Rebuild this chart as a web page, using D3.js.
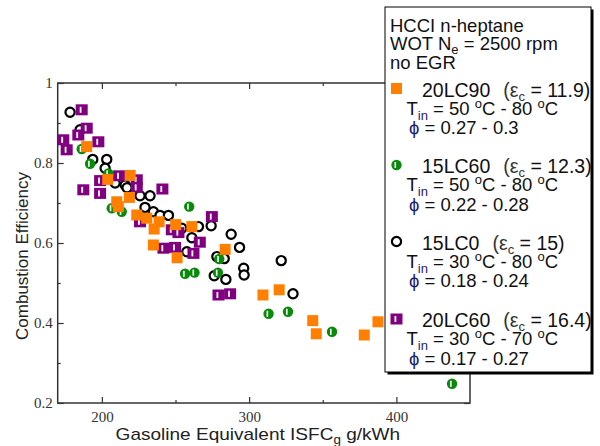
<!DOCTYPE html>
<html>
<head>
<meta charset="utf-8">
<script src="https://cdn.jsdelivr.net/npm/d3@7"></script>
<style>
  body { margin: 0; background: #fff; }
  svg { font-family: "Liberation Sans", Arial, sans-serif; }
</style>
</head>
<body>
<script>
// chart size
const width = 600;
const height = 446;

const isfc20LC90 = [189.7, 204.0, 219.2, 210.1, 218.7, 211.2, 223.7, 230.5, 238.9, 235.5, 250.1, 261.1, 235.0, 251.1, 283.7, 309.4, 320.4, 343.2, 345.6, 378.2, 387.5];
const eff20LC90  = [0.841, 0.759, 0.769, 0.703, 0.714, 0.691, 0.670, 0.662, 0.653, 0.635, 0.646, 0.641, 0.595, 0.563, 0.584, 0.470, 0.483, 0.406, 0.373, 0.370, 0.403];

const isfc15LC60 = [186.3, 192.0, 204.4, 206.7, 213.5, 259.3, 279.7, 278.8, 256.5, 262.9, 313.2, 326.4, 356.3, 437.8];
const eff15LC60  = [0.835, 0.798, 0.774, 0.687, 0.678, 0.691, 0.560, 0.526, 0.523, 0.526, 0.423, 0.428, 0.378, 0.248];

const isfc15LC0 = [178.4, 185.2, 193.8, 203.3, 202.2, 209.0, 215.8, 217.1, 225.9, 232.7, 229.3, 235.0, 239.5, 245.2, 254.3, 265.6, 274.2, 261.1, 257.7, 287.8, 293.5, 278.1, 283.1, 276.3, 284.2, 296.3, 296.6, 321.8, 329.8];
const eff15LC0  = [0.927, 0.883, 0.809, 0.809, 0.787, 0.750, 0.745, 0.738, 0.718, 0.718, 0.689, 0.678, 0.669, 0.669, 0.637, 0.641, 0.643, 0.613, 0.578, 0.622, 0.589, 0.566, 0.561, 0.518, 0.509, 0.537, 0.520, 0.556, 0.473];

const isfc20LC60 = [186.3, 189.7, 184.0, 173.8, 176.1, 197.6, 187.4, 198.8, 198.8, 211.7, 223.7, 223.7, 241.1, 225.9, 247.5, 252.0, 274.7, 266.5, 241.8, 249.7, 262.2, 279.2, 287.1];
const eff20LC60  = [0.933, 0.887, 0.870, 0.858, 0.833, 0.853, 0.733, 0.756, 0.724, 0.768, 0.758, 0.739, 0.735, 0.653, 0.633, 0.626, 0.666, 0.602, 0.587, 0.589, 0.574, 0.470, 0.473];

// ticks
const xMajor = [200, 300, 400];
const xMinor = [250, 350];
const yMajor = [0.2, 0.4, 0.6, 0.8, 1];
const yMinor = [0.3, 0.5, 0.7, 0.9];

// legend texts
const header = ['HCCI n-heptane', 'WOT N', 'no EGR'];
const names = ['20LC90', '15LC60', '15LC0', '20LC60'];
const ratios = ['11.9', '12.3', '15', '16.4'];
const tinLow = ['50', '50', '30', '30'];
const tinHigh = ['80', '80', '80', '70'];
const phiRange = ['0.27 - 0.3', '0.22 - 0.28', '0.18 - 0.24', '0.17 - 0.27'];

const orange = '#ff8000', green = '#0a8a0a', purple = '#800080';

const svg = d3.select('body')
  .append('svg')
  .attr('width', width)
  .attr('height', height);

const x = d3.scaleLinear().domain([170, 450]).range([57.7, 470]);
const y = d3.scaleLinear().domain([0.2, 1]).range([403, 83]);

// cadre
svg.append('rect')
  .attr('x', x(170)).attr('y', y(1))
  .attr('width', x(450) - x(170)).attr('height', y(0.2) - y(1))
  .attr('fill', 'none').attr('stroke', '#333').attr('stroke-width', 1.5);

const tickStyle = g => {
  g.select('.domain').remove();
  g.selectAll('line').attr('stroke', '#333').attr('stroke-width', 1.2);
  g.selectAll('text')
    .attr('font-family', '"Liberation Serif", "Times New Roman", serif')
    .attr('font-size', 15).attr('fill', '#333');
};

// axe horizontal
svg.append('g')
  .attr('transform', `translate(0,${y(0.2)})`)
  .call(d3.axisBottom(x).tickValues(xMajor).tickSizeInner(-6).tickSizeOuter(0).tickPadding(8).tickFormat(d3.format('d')))
  .call(tickStyle);
svg.append('g')
  .attr('transform', `translate(0,${y(0.2)})`)
  .call(d3.axisBottom(x).tickValues(xMinor).tickSize(-3).tickFormat(''))
  .call(tickStyle);
svg.append('g')
  .attr('transform', `translate(0,${y(1)})`)
  .call(d3.axisTop(x).tickValues(xMajor).tickSize(-6).tickFormat(''))
  .call(tickStyle);
svg.append('g')
  .attr('transform', `translate(0,${y(1)})`)
  .call(d3.axisTop(x).tickValues(xMinor).tickSize(-3).tickFormat(''))
  .call(tickStyle);

// axe vertical
svg.append('g')
  .attr('transform', `translate(${x(170)},0)`)
  .call(d3.axisLeft(y).tickValues(yMajor).tickSizeInner(-6).tickSizeOuter(0).tickPadding(5)
    .tickFormat(d => d === 1 ? '1' : d3.format('.1f')(d)))
  .call(tickStyle);
svg.append('g')
  .attr('transform', `translate(${x(170)},0)`)
  .call(d3.axisLeft(y).tickValues(yMinor).tickSize(-3).tickFormat(''))
  .call(tickStyle);
svg.append('g')
  .attr('transform', `translate(${x(450)},0)`)
  .call(d3.axisRight(y).tickValues(yMajor).tickSize(-6).tickFormat(''))
  .call(tickStyle);

// titres des axes
svg.append('text')
  .attr('transform', `translate(${(x(170) + x(450)) / 2 - 6},440) scale(1.12,1)`)
  .attr('text-anchor', 'middle')
  .attr('font-size', 17)
  .attr('fill', '#222')
  .text('Gasoline Equivalent ISFC')
  .append('tspan').attr('font-size', 12).attr('dy', 4).text('g')
  .clone(true).attr('font-size', 17).attr('dy', -4).text(' g/kWh');

svg.append('text')
  .attr('transform', 'translate(28,256) rotate(-90)')
  .attr('text-anchor', 'middle')
  .attr('font-size', 17)
  .attr('fill', '#222')
  .text('Combustion Efficiency');

// points
const pts = (xs, ys) => xs.map((v, i) => ({ x: v, y: ys[i] }));

function drawOpen(g) {
  g.append('circle').attr('r', 4.6).attr('fill', 'white').attr('stroke', '#000').attr('stroke-width', 2.2);
}
function drawGreen(g) {
  g.append('circle').attr('r', 5.2).attr('fill', green);
  g.append('rect').attr('x', -2).attr('y', -3).attr('width', 1.6).attr('height', 6).attr('fill', 'white');
}
function drawPurple(g) {
  g.append('rect').attr('x', -6).attr('y', -5.5).attr('width', 12).attr('height', 11).attr('fill', purple);
  g.append('rect').attr('x', -2).attr('y', -3).attr('width', 1.8).attr('height', 6).attr('fill', 'white');
}
function drawOrange(g) {
  g.append('rect').attr('x', -5.5).attr('y', -5.5).attr('width', 11).attr('height', 11).attr('fill', orange);
}

const layers = [
  [pts(isfc15LC0, eff15LC0), drawOpen],
  [pts(isfc20LC60, eff20LC60), drawPurple],
  [pts(isfc15LC60, eff15LC60), drawGreen],
  [pts(isfc20LC90, eff20LC90), drawOrange]
];
layers.forEach(([data, draw]) => {
  svg.append('g')
    .selectAll('g')
    .data(data)
    .enter()
    .append('g')
    .attr('transform', d => `translate(${x(d.x)},${y(d.y)})`)
    .each(function () { draw(d3.select(this)); });
});

// legende
const lx = 385, ly = 7, lw = 206, lh = 365;
svg.append('rect').attr('x', lx + 2.5).attr('y', ly + 2.5).attr('width', lw).attr('height', lh).attr('fill', '#000');
svg.append('rect').attr('x', lx).attr('y', ly).attr('width', lw).attr('height', lh)
  .attr('fill', 'white').attr('stroke', '#000').attr('stroke-width', 1);

const leg = svg.append('g').attr('fill', '#111');
const h0 = leg.append('text').attr('x', 390).attr('y', 31.5).attr('font-size', 18.5);
h0.text(header[0]);
const h1 = leg.append('text').attr('x', 390).attr('y', 50).attr('font-size', 18.5);
h1.text(header[1]);
h1.append('tspan').attr('font-size', 13).attr('dy', 4).text('e');
h1.append('tspan').attr('dy', -4).text(' = 2500 rpm');
leg.append('text').attr('x', 390).attr('y', 69).attr('font-size', 18.5).text(header[2]);

const markers = [drawOrange, drawGreen, drawOpen, drawPurple];
const nameY = [96.5, 173, 249.5, 327];

names.forEach((n, i) => {
  const by = nameY[i];
  markers[i](leg.append('g').attr('transform', `translate(396.5,${by - 8})`));

  const t = leg.append('text').attr('x', 422).attr('y', by).attr('font-size', 19.5);
  t.append('tspan').text(n);
  t.append('tspan').attr('dx', 13).attr('fill', '#333').text('(\u03b5');
  t.append('tspan').attr('font-size', 13).attr('dy', 4).attr('fill', '#333').text('c');
  t.append('tspan').attr('dy', -4).text(` = ${ratios[i]})`);

  const t2 = leg.append('text').attr('x', 406.5).attr('y', by + 18).attr('font-size', 18.5);
  t2.append('tspan').text('T');
  t2.append('tspan').attr('font-size', 13).attr('dy', 5).attr('fill', '#1c1c70').text('in');
  t2.append('tspan').attr('dy', -5).text(` = ${tinLow[i]} `);
  t2.append('tspan').attr('font-size', 13).attr('dy', -7).text('o');
  t2.append('tspan').attr('dy', 7).text(`C - ${tinHigh[i]} `);
  t2.append('tspan').attr('font-size', 13).attr('dy', -7).text('o');
  t2.append('tspan').attr('dy', 7).text('C');

  const t3 = leg.append('text').attr('x', 409).attr('y', by + 37.5).attr('font-size', 18.5);
  t3.append('tspan').attr('fill', '#1c1c70').text('\u03d5');
  t3.append('tspan').text(` = ${phiRange[i]}`);
});
</script>
</body>
</html>
